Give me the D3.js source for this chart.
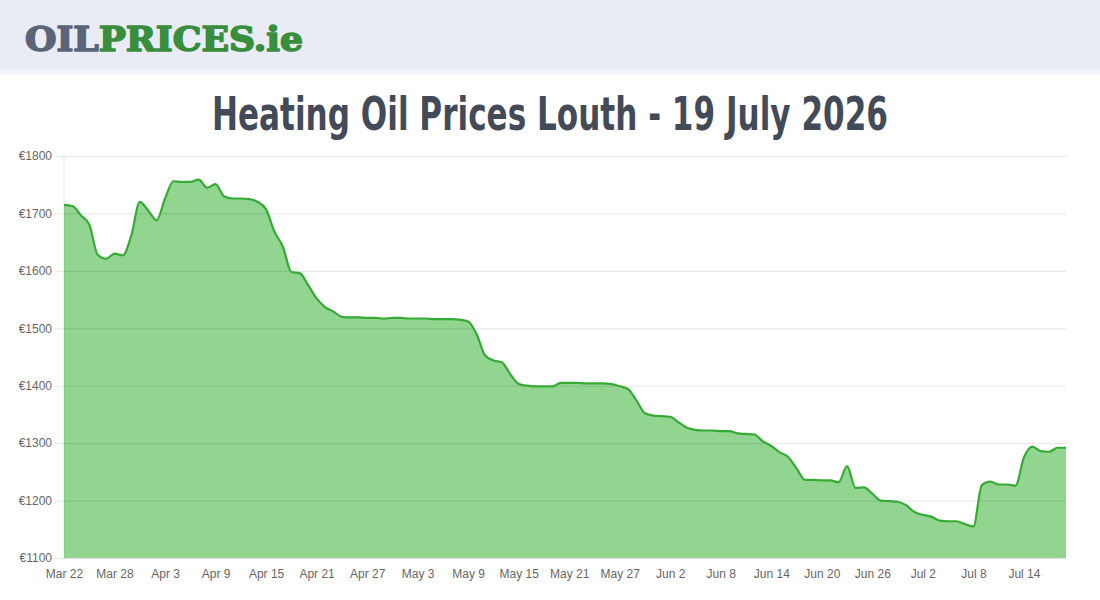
<!DOCTYPE html>
<html>
<head>
<meta charset="utf-8">
<script src="https://cdn.jsdelivr.net/npm/d3@7.9.0/dist/d3.min.js"></script>
<style>
  html, body { margin: 0; padding: 0; background: #fff; }
  svg { display: block; }
</style>
</head>
<body>
<svg width="1100" height="600"></svg>
<script>
// daily price for Louth, starting Mar 22 2026
const startDate = new Date(2026, 2, 22);
const prices = [
  1715, 1713, 1697, 1681, 1628, 1621, 1630, 1627, 1662, 1720,
  1705, 1688, 1726, 1756, 1755, 1755, 1759, 1745, 1751, 1730,
  1726, 1726, 1725, 1720, 1707, 1668, 1642, 1598, 1596, 1575,
  1552, 1537, 1529, 1520, 1519, 1519, 1518, 1518, 1517, 1518,
  1518, 1517, 1517, 1517, 1516, 1516, 1516, 1515, 1512, 1490,
  1453, 1444, 1441, 1420, 1403, 1400, 1399, 1399, 1399, 1405,
  1405, 1405, 1404, 1404, 1404, 1403, 1399, 1394, 1374, 1352,
  1348, 1347, 1346, 1336, 1327, 1323, 1322, 1322, 1321, 1321,
  1317, 1316, 1315, 1303, 1295, 1284, 1276, 1256, 1236, 1236,
  1235, 1235, 1232, 1260, 1222, 1223, 1212, 1200, 1199, 1198,
  1192, 1180, 1175, 1172, 1165, 1164, 1164, 1159, 1155, 1227,
  1233, 1228, 1228, 1226, 1275, 1294, 1286, 1285, 1292, 1292
];
const yTicks = [1100, 1200, 1300, 1400, 1500, 1600, 1700, 1800];
const tickEvery = 6; // one x label every 6 days

const data = prices.map((p, i) => ({ date: d3.timeDay.offset(startDate, i), price: p }));

const svg = d3.select("svg");
const margin = { top: 156, right: 34, bottom: 42, left: 64 };
const width = 1100, height = 600;

// header band + logo
svg.append("rect").attr("x", 0).attr("y", 0).attr("width", width).attr("height", 75)
  .attr("fill", "#f4f5f9");
svg.append("rect").attr("x", 0).attr("y", 0).attr("width", width).attr("height", 70)
  .attr("fill", "#e9ecf4");

const logo = svg.append("text")
  .attr("x", 25).attr("y", 51)
  .attr("font-family", "DejaVu Serif")
  .attr("font-weight", "bold")
  .attr("font-size", 33)
  .attr("stroke-width", 1.6)
  .attr("stroke-linejoin", "round")
  .attr("textLength", 278)
  .attr("lengthAdjust", "spacingAndGlyphs");
logo.append("tspan").attr("fill", "#5b6479").attr("stroke", "#5b6479").text("OIL");
logo.append("tspan").attr("fill", "#388e3c").attr("stroke", "#388e3c").text("PRICES.ie");

// title, squeezed horizontally to the reference width
const title = svg.append("text")
  .attr("x", 0).attr("y", 0)
  .attr("font-family", "DejaVu Sans Condensed, Liberation Sans Narrow, sans-serif")
  .attr("font-weight", "bold")
  .attr("font-size", 47)
  .attr("fill", "#434a58")
  .text("Heating Oil Prices Louth - 19 July 2026");
const tw = title.node().getComputedTextLength();
const sx = 676 / tw;
title.attr("transform", `translate(${550 - 338},130) scale(${sx},1)`);

const x = d3.scaleTime()
  .domain(d3.extent(data, d => d.date))
  .range([margin.left, width - margin.right]);

const y = d3.scaleLinear()
  .domain([1100, 1800])
  .range([height - margin.bottom, margin.top]);

// area + line
const area = d3.area()
  .x(d => x(d.date))
  .y0(y(1100))
  .y1(d => y(d.price))
  .curve(d3.curveMonotoneX);

const line = d3.line()
  .x(d => x(d.date))
  .y(d => y(d.price))
  .curve(d3.curveMonotoneX);

svg.append("path")
  .datum(data)
  .attr("fill", "#91d591")
  .attr("d", area);

// grid + y axis
const yAxis = svg.append("g")
  .attr("transform", `translate(${margin.left},0)`)
  .call(d3.axisLeft(y).tickValues(yTicks).tickFormat(d => "€" + d)
    .tickSize(-(width - margin.right - margin.left)).tickPadding(12));
yAxis.select(".domain").remove();
yAxis.selectAll(".tick line")
  .attr("x1", -9)
  .attr("stroke", "rgba(0,0,0,0.1)");
yAxis.selectAll("text")
  .attr("fill", "#666")
  .attr("font-family", "Liberation Sans, Arial, sans-serif")
  .attr("font-size", 12);

svg.append("line")
  .attr("x1", margin.left).attr("x2", margin.left)
  .attr("y1", margin.top).attr("y2", height - margin.bottom)
  .attr("stroke", "rgba(0,0,0,0.1)");

svg.append("path")
  .datum(data)
  .attr("fill", "none")
  .attr("stroke", "#35ab35")
  .attr("stroke-width", 2.2)
  .attr("d", line);

// x axis
const xTickValues = data.filter((d, i) => i % tickEvery === 0).map(d => d.date);
const xAxis = svg.append("g")
  .attr("transform", `translate(0,${height - margin.bottom})`)
  .call(d3.axisBottom(x).tickValues(xTickValues).tickFormat(d3.timeFormat("%b %-d"))
    .tickSize(0).tickPadding(11));
xAxis.select(".domain").remove();
xAxis.selectAll("text")
  .attr("fill", "#666")
  .attr("font-family", "Liberation Sans, Arial, sans-serif")
  .attr("font-size", 12);
</script>
</body>
</html>
